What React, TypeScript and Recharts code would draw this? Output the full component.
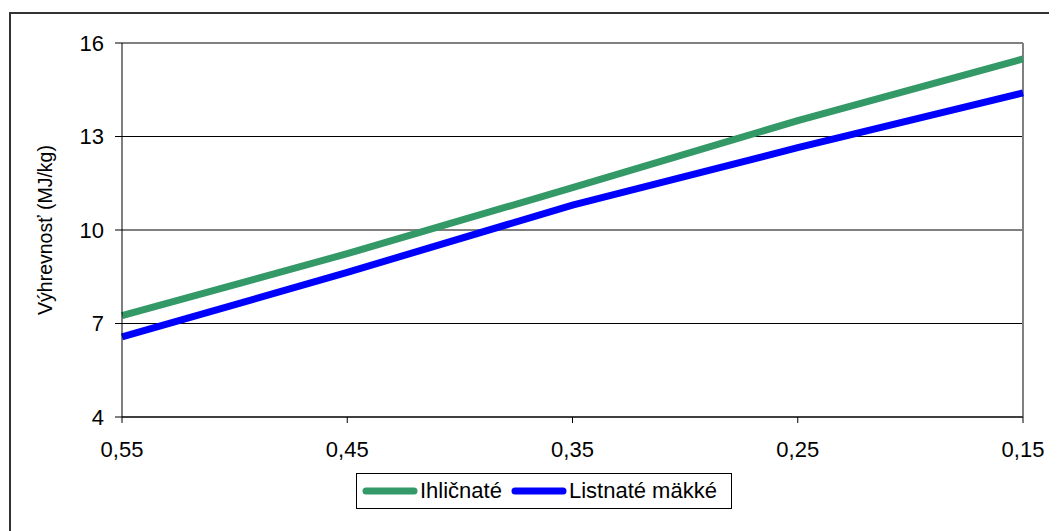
import { LineChart, Line, XAxis, YAxis, CartesianGrid, ReferenceLine } from 'recharts';

const moisture = ['0,55', '0,45', '0,35', '0,25', '0,15'];
const ihlicnate = [7.25, 9.24, 11.36, 13.51, 15.49];
const listnate = [6.57, 8.64, 10.8, 12.64, 14.4];
const yTicks = [4, 7, 10, 13, 16];

const data = moisture.map((k, i) => ({ k, ihl: ihlicnate[i], lis: listnate[i] }));

const font = '"Liberation Sans", Arial, sans-serif';

const legendItems = [
  { label: 'Ihličnaté', color: '#339966' },
  { label: 'Listnaté mäkké', color: '#0000FF' },
];

function ChartLegend() {
  return (
    <div
      style={{
        position: 'absolute',
        left: 348,
        top: 465,
        border: '1px solid #000',
        height: 34,
        width: 374,
        display: 'flex',
        alignItems: 'center',
        fontFamily: font,
        fontSize: 22,
        color: '#000',
        boxSizing: 'content-box',
      }}
    >
      {legendItems.map((it) => (
        <div key={it.label} style={{ display: 'flex', alignItems: 'center', marginLeft: 5, marginRight: 4 }}>
          <svg width={56} height={10}>
            <line x1={4} y1={5} x2={52} y2={5} stroke={it.color} strokeWidth={7} strokeLinecap="round" />
          </svg>
          <span style={{ marginLeft: 2 }}>{it.label}</span>
        </div>
      ))}
    </div>
  );
}

export default function App() {
  return (
    <div style={{ position: 'relative', width: 1049, height: 523, overflow: 'hidden', background: '#fff' }}>
      <div
        style={{
          position: 'absolute',
          left: 1,
          top: 4,
          width: 1100,
          height: 600,
          border: '2px solid #333',
        }}
      />
      <LineChart
        width={1049}
        height={523}
        data={data}
        margin={{ top: 35, right: 34, left: 0, bottom: 54 }}
        style={{ position: 'absolute', left: 0, top: 0 }}
      >
        <CartesianGrid vertical={false} stroke="#000" strokeWidth={1} />
        <XAxis
          dataKey="k"
          stroke="#000"
          tickSize={6}
          tickMargin={18}
          height={60}
          tick={{ fill: '#000', fontSize: 22, fontFamily: font }}
        />
        <YAxis
          domain={[4, 16]}
          ticks={yTicks}
          width={114}
          stroke="#000"
          tickSize={7}
          tickMargin={11}
          tick={{ fill: '#000', fontSize: 22, fontFamily: font }}
          label={({ viewBox }: any) => {
            const cx = 37;
            const cy = viewBox.y + viewBox.height / 2;
            return (
              <text
                x={cx}
                y={cy}
                transform={`rotate(-90 ${cx} ${cy})`}
                textAnchor="middle"
                dominantBaseline="central"
                fontSize={19.5}
                fontFamily={font}
                fill="#000"
              >
                Výhrevnosť (MJ/kg)
              </text>
            );
          }}
        />
        <ReferenceLine y={16} stroke="#808080" strokeWidth={2} />
        <ReferenceLine x="0,15" stroke="#808080" strokeWidth={2} />
        <Line
          type="linear"
          dataKey="ihl"
          stroke="#339966"
          strokeWidth={7}
          dot={false}
          isAnimationActive={false}
        />
        <Line
          type="linear"
          dataKey="lis"
          stroke="#0000FF"
          strokeWidth={7}
          dot={false}
          isAnimationActive={false}
        />
      </LineChart>
      <ChartLegend />
    </div>
  );
}
